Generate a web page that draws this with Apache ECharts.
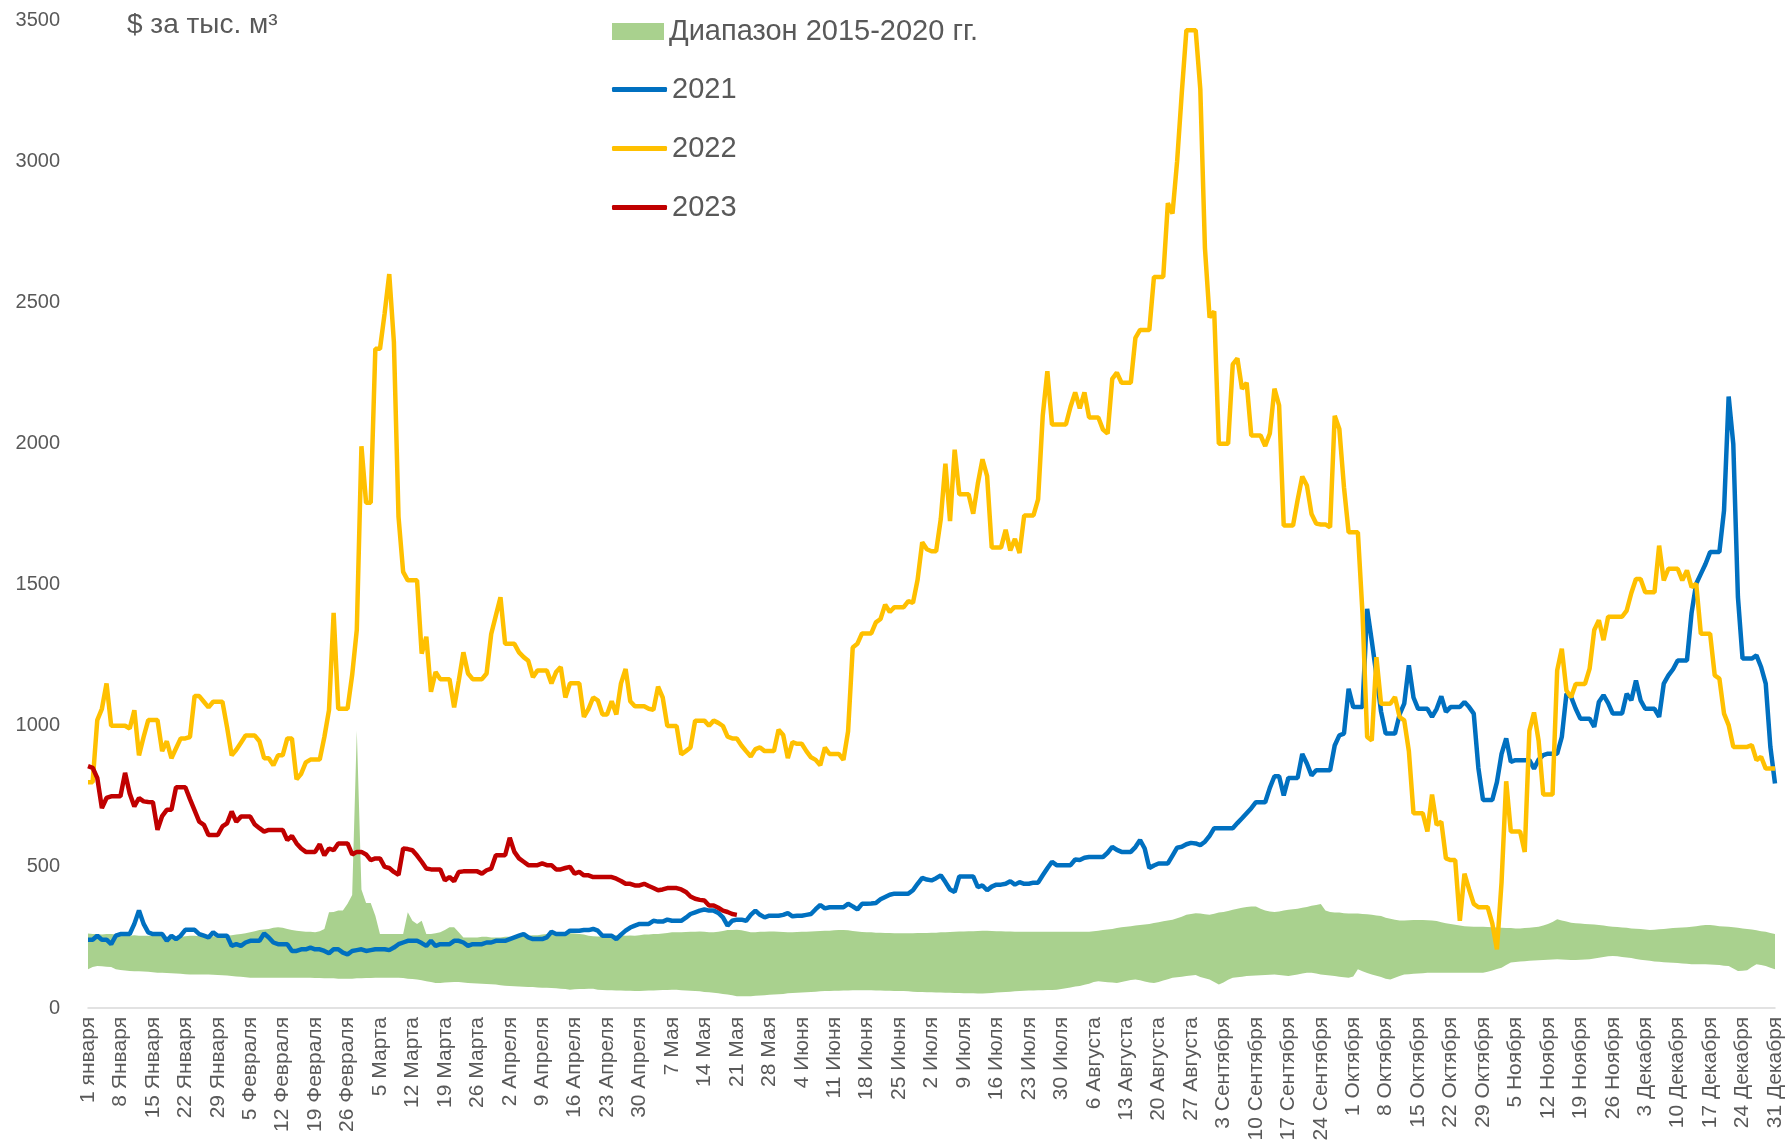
<!DOCTYPE html>
<html lang="ru" style="height: 100%">
<head>
  <meta charset="UTF-8">
  <title>Цены на газ</title>
</head>
<body style="height: 100%; margin: 0">
<div id="container" style="height: 100%; background-color: #ffffff"></div>
<script type="text/javascript" src="https://cdn.jsdelivr.net/npm/echarts@6/dist/echarts.min.js"></script>

<script type="text/javascript">
  // подписи оси X, каждые 7 дней
  var tickLabels = ['1 января', '8 Января', '15 Января', '22 Января', '29 Января',
    '5 Февраля', '12 Февраля', '19 Февраля', '26 Февраля',
    '5 Марта', '12 Марта', '19 Марта', '26 Марта',
    '2 Апреля', '9 Апреля', '16 Апреля', '23 Апреля', '30 Апреля',
    '7 Мая', '14 Мая', '21 Мая', '28 Мая',
    '4 Июня', '11 Июня', '18 Июня', '25 Июня',
    '2 Июля', '9 Июля', '16 Июля', '23 Июля', '30 Июля',
    '6 Августа', '13 Августа', '20 Августа', '27 Августа',
    '3 Сентября', '10 Сентября', '17 Сентября', '24 Сентября',
    '1 Октября', '8 Октября', '15 Октября', '22 Октября', '29 Октября',
    '5 Ноября', '12 Ноября', '19 Ноября', '26 Ноября',
    '3 Декабря', '10 Декабря', '17 Декабря', '24 Декабря', '31 Декабря'];

  // диапазон 2015-2020: минимум по дням
  var rangeMin = [
    137, 145, 149, 148, 146, 145, 137,
    135, 133, 131, 130, 130, 129, 128,
    127, 125, 125, 124, 123, 122, 121,
    120, 119, 119, 119, 119, 119, 118,
    117, 116, 115, 113, 112, 111, 109,
    107, 107, 107, 107, 107, 107, 107,
    107, 107, 107, 107, 107, 107, 107,
    106, 106, 105, 105, 105, 104, 104,
    104, 104, 105, 105, 106, 106, 107,
    107, 107, 107, 107, 107, 106, 104,
    103, 101, 98, 95, 92, 89, 89,
    90, 91, 92, 92, 90, 89, 88,
    87, 86, 85, 84, 83, 81, 79,
    78, 77, 76, 75, 74, 74, 73,
    72, 72, 71, 70, 68, 67, 65,
    66, 67, 67, 68, 68, 65, 64,
    63, 63, 62, 62, 61, 61, 60,
    60, 61, 62, 62, 63, 64, 64,
    65, 65, 63, 62, 61, 60, 59,
    57, 56, 54, 52, 50, 48, 45,
    42, 42, 42, 42, 43, 44, 45,
    47, 48, 49, 50, 52, 53, 54,
    55, 56, 57, 58, 59, 60, 60,
    61, 61, 62, 62, 63, 63, 63,
    63, 63, 62, 62, 61, 61, 60,
    60, 60, 59, 58, 57, 57, 56,
    56, 55, 55, 54, 54, 53, 53,
    52, 52, 52, 51, 51, 52, 53,
    55, 56, 57, 58, 59, 60, 61,
    62, 62, 63, 63, 64, 64, 65,
    67, 70, 73, 76, 78, 82, 86,
    92, 95, 93, 91, 90, 89, 92,
    96, 99, 101, 98, 94, 90, 89,
    92, 97, 102, 107, 109, 111, 113,
    115, 117, 110, 105, 101, 92, 83,
    90, 100, 107, 109, 111, 113, 114,
    115, 116, 117, 118, 119, 117, 115,
    113, 116, 119, 122, 125, 125, 122,
    119, 117, 115, 113, 111, 109, 107,
    112, 137, 130, 124, 119, 114, 110,
    104, 101, 107, 113, 119, 120, 121,
    122, 123, 125, 125, 125, 125, 125,
    125, 125, 125, 125, 125, 125, 125,
    125, 128, 133, 138, 143, 152, 161,
    163, 165, 166, 167, 168, 169, 170,
    171, 172, 173, 172, 171, 170, 170,
    171, 172, 173, 175, 178, 181, 183,
    184, 183, 181, 179, 177, 174, 171,
    169, 167, 165, 164, 162, 161, 160,
    159, 158, 157, 155, 155, 155, 155,
    154, 153, 152, 150, 149, 140, 131,
    132, 134, 145, 155, 152, 149, 143,
    137];

  // диапазон 2015-2020: максимум по дням
  var rangeMax = [
    264, 262, 262, 260, 262, 262, 260,
    258, 256, 256, 258, 256, 256, 256,
    256, 256, 254, 252, 250, 250, 252,
    254, 256, 256, 254, 255, 255, 254,
    255, 255, 256, 258, 260, 262, 265,
    268, 272, 276, 278, 280, 284, 286,
    284, 280, 276, 274, 272, 270, 270,
    268, 272, 280, 339, 340, 345, 345,
    369, 400, 982, 420, 372, 372, 327,
    262, 262, 262, 262, 262, 262, 339,
    309, 298, 309, 262, 262, 265, 268,
    276, 286, 286, 268, 250, 250, 250,
    250, 252, 252, 250, 250, 250, 252,
    252, 250, 252, 255, 256, 258, 258,
    260, 262, 262, 262, 264, 265, 265,
    264, 262, 260, 256, 254, 253, 253,
    255, 256, 258, 258, 256, 257, 256,
    258, 260, 260, 262, 262, 264, 266,
    268, 268, 268, 269, 270, 270, 271,
    270, 268, 268, 270, 273, 276, 276,
    277, 275, 272, 268, 268, 270, 270,
    271, 271, 270, 269, 268, 268, 269,
    270, 270, 271, 272, 273, 274, 274,
    275, 276, 276, 275, 273, 271, 269,
    268, 268, 267, 267, 266, 266, 265,
    265, 265, 265, 265, 266, 266, 266,
    267, 267, 268, 268, 269, 270, 271,
    271, 272, 272, 273, 274, 274, 273,
    272, 272, 271, 271, 270, 270, 270,
    270, 270, 270, 270, 270, 270, 270,
    270, 270, 270, 270, 270, 270, 270,
    272, 274, 276, 278, 280, 283, 286,
    288, 290, 292, 294, 296, 298, 301,
    304, 307, 310, 313, 318, 323, 330,
    333, 336, 335, 332, 330, 334, 338,
    340, 344, 348, 352, 355, 358, 360,
    360, 352, 345, 342, 340, 342, 345,
    348, 350, 352, 355, 358, 362, 365,
    368, 345, 340, 338, 338, 336, 335,
    335, 335, 333, 332, 330, 328, 326,
    320, 316, 313, 310, 310, 311, 312,
    312, 312, 311, 310, 308, 304, 300,
    298, 295, 292, 290, 289, 288, 288,
    288, 287, 286, 285, 284, 283, 283,
    282, 282, 283, 284, 286, 288, 292,
    298, 305, 314, 310, 306, 302, 300,
    299, 298, 297, 296, 294, 292, 290,
    288, 287, 285, 284, 282, 281, 280,
    278, 276, 277, 279, 280, 282, 283,
    284, 285, 286, 288, 290, 292, 294,
    294, 292, 290, 289, 288, 286, 284,
    282, 280, 278, 275, 272, 270, 266,
    262];

  var price2021 = [
    242, 242, 256, 242, 242, 226, 256,
    262, 262, 262, 298, 345, 298, 268,
    262, 262, 262, 238, 256, 244, 256,
    277, 277, 277, 262, 256, 250, 268,
    256, 256, 256, 220, 226, 220, 232,
    238, 238, 238, 264, 250, 232, 226,
    226, 226, 202, 202, 208, 208, 214,
    208, 208, 202, 194, 208, 208, 196,
    190, 202, 205, 208, 202, 205, 208,
    208, 208, 205, 214, 226, 232, 238,
    238, 238, 230, 220, 238, 220, 226,
    226, 226, 238, 238, 232, 220, 226,
    226, 226, 232, 232, 238, 238, 238,
    244, 250, 256, 262, 250, 244, 244,
    244, 250, 270, 262, 262, 262, 274,
    274, 274, 276, 276, 280, 274, 256,
    256, 256, 244, 260, 274, 285, 292,
    298, 298, 298, 309, 306, 306, 313,
    309, 309, 309, 320, 333, 339, 345,
    349, 345, 345, 337, 321, 292, 309,
    313, 313, 309, 330, 345, 330, 321,
    327, 327, 327, 330, 336, 325, 327,
    327, 330, 333, 350, 365, 353, 357,
    357, 357, 357, 369, 360, 349, 369,
    369, 370, 372, 385, 393, 401, 405,
    405, 405, 405, 417, 440, 461, 455,
    452, 460, 470, 446, 420, 411, 466,
    466, 466, 466, 428, 434, 417, 430,
    437, 437, 440, 449, 437, 446, 440,
    440, 444, 444, 470, 495, 518, 506,
    506, 506, 506, 526, 524, 532, 535,
    535, 535, 535, 550, 571, 560, 553,
    553, 553, 570, 595, 565, 496, 505,
    512, 512, 512, 540, 568, 571, 580,
    585, 583, 577, 589, 610, 637, 637,
    637, 637, 637, 655, 672, 690, 708,
    729, 729, 729, 780, 821, 821, 753,
    815, 815, 815, 900, 866, 824, 842,
    842, 842, 842, 930, 966, 972, 1131,
    1066, 1066, 1066, 1414, 1300, 1180, 1050,
    972, 972, 972, 1040, 1078, 1214, 1100,
    1060, 1060, 1060, 1031, 1060, 1104, 1049,
    1066, 1066, 1066, 1084, 1066, 1043, 850,
    737, 737, 737, 800, 900, 955, 872,
    878, 878, 878, 878, 848, 880, 896,
    901, 901, 901, 960, 1113, 1102, 1060,
    1025, 1025, 1025, 996, 1084, 1108, 1080,
    1043, 1043, 1043, 1113, 1090, 1160, 1090,
    1060, 1060, 1060, 1031, 1149, 1178, 1200,
    1231, 1231, 1231, 1400, 1503, 1538, 1573,
    1615, 1615, 1615, 1762, 2166, 1998, 1456,
    1238, 1238, 1238, 1249, 1208, 1149, 925,
    795];

  var price2022 = [
    800, 800, 1020, 1060, 1150, 1000, 1000,
    1000, 1000, 990, 1055, 895, 960, 1020,
    1020, 1020, 910, 945, 885, 920, 955,
    955, 960, 1105, 1105, 1085, 1065, 1085,
    1085, 1085, 995, 895, 915, 940, 965,
    965, 965, 945, 885, 885, 860, 895,
    895, 955, 955, 810, 830, 870, 880,
    880, 880, 960, 1055, 1400, 1060, 1060,
    1060, 1180, 1340, 1990, 1790, 1790, 2335,
    2335, 2460, 2600, 2360, 1740, 1545, 1515,
    1515, 1515, 1255, 1315, 1120, 1190, 1165,
    1165, 1165, 1065, 1160, 1260, 1185, 1165,
    1165, 1165, 1185, 1325, 1390, 1455, 1290,
    1290, 1290, 1260, 1243, 1230, 1172, 1196,
    1196, 1196, 1150, 1190, 1208, 1100, 1150,
    1150, 1150, 1031, 1060, 1100, 1090, 1040,
    1040, 1087, 1040, 1150, 1201, 1087, 1069,
    1069, 1069, 1060, 1056, 1138, 1100, 999,
    999, 999, 898, 910, 923, 1018, 1018,
    1018, 1000, 1018, 1010, 999, 961, 955,
    955, 930, 910, 891, 917, 923, 910,
    910, 910, 986, 967, 885, 942, 936,
    936, 910, 888, 879, 860, 923, 900,
    900, 900, 879, 980, 1277, 1290, 1327,
    1327, 1327, 1366, 1378, 1429, 1403, 1420,
    1420, 1420, 1441, 1435, 1517, 1650, 1625,
    1618, 1618, 1732, 1928, 1725, 1978, 1820,
    1820, 1820, 1751, 1858, 1944, 1884, 1631,
    1631, 1631, 1694, 1621, 1662, 1612, 1745,
    1745, 1745, 1802, 2098, 2256, 2067, 2067,
    2067, 2067, 2130, 2181, 2124, 2181, 2092,
    2092, 2092, 2049, 2035, 2229, 2251, 2215,
    2215, 2215, 2374, 2402, 2402, 2402, 2590,
    2590, 2590, 2851, 2814, 3000, 3241, 3464,
    3464, 3464, 3255, 2692, 2446, 2468, 1999,
    1999, 1999, 2280, 2301, 2193, 2215, 2028,
    2028, 2028, 1991, 2035, 2194, 2135, 1709,
    1709, 1709, 1800, 1883, 1851, 1750, 1716,
    1713, 1713, 1703, 2098, 2051, 1845, 1685,
    1685, 1685, 1397, 960, 948, 1243, 1078,
    1078, 1078, 1102, 1031, 1019, 910, 690,
    690, 690, 625, 756, 649, 660, 530,
    524, 524, 309, 476, 420, 369, 357,
    357, 357, 300, 208, 446, 803, 625,
    625, 625, 553, 982, 1047, 946, 756,
    756, 756, 1196, 1273, 1125, 1101, 1148,
    1148, 1148, 1202, 1339, 1374, 1303, 1386,
    1386, 1386, 1386, 1408, 1470, 1520, 1520,
    1473, 1473, 1473, 1638, 1515, 1556, 1556,
    1556, 1515, 1550, 1491, 1503, 1326, 1326,
    1326, 1178, 1167, 1043, 1002, 925, 925,
    925, 925, 931, 878, 890, 848, 848,
    848];

  // 2023 — данные до 21 мая
  var price2023 = [
    857, 851, 815, 708, 744, 750, 750,
    750, 833, 760, 714, 744, 732, 730,
    729, 631, 680, 702, 702, 782, 782,
    782, 740, 700, 660, 649, 613, 613,
    613, 643, 654, 696, 660, 678, 678,
    678, 650, 637, 625, 631, 631, 631,
    631, 595, 610, 583, 565, 553, 553,
    553, 580, 541, 565, 559, 583, 583,
    583, 544, 553, 553, 544, 524, 530,
    530, 500, 496, 482, 472, 565, 563,
    559, 540, 518, 494, 491, 491, 491,
    452, 464, 449, 482, 484, 484, 484,
    484, 476, 488, 494, 541, 541, 541,
    603, 553, 530, 518, 506, 506, 506,
    512, 506, 506, 491, 491, 496, 500,
    476, 482, 470, 470, 464, 464, 464,
    464, 464, 458, 450, 440, 440, 434,
    434, 440, 432, 425, 417, 420, 425,
    425, 425, 420, 411, 395, 387, 383,
    381, 363, 363, 355, 345, 340, 333,
    330];

  var days = [];
  for (var i = 0; i < rangeMax.length; i++) {
    days.push(i);
  }
  var rangeSpan = rangeMax.map(function (v, i) {
    return v - rangeMin[i];
  });

  var fontName = 'Liberation Sans';
  var grey = '#595959';

  var dom = document.getElementById('container');
  var myChart = echarts.init(dom, null, {
    renderer: 'canvas',
    useDirtyRect: false
  });
  var option;

  option = {
    animation: false,
    textStyle: { fontFamily: fontName },
    title: {
      text: '$ за тыс. м³',
      left: 127,
      top: 11,
      padding: 0,
      textStyle: { fontSize: 28, fontWeight: 'normal', color: grey, fontFamily: fontName }
    },
    legend: [
      {
        data: ['Диапазон 2015-2020 гг.'],
        orient: 'vertical',
        left: 612,
        top: 17,
        padding: 0,
        icon: 'rect',
        itemWidth: 52,
        itemHeight: 17,
        textStyle: { fontSize: 29, color: grey, fontFamily: fontName }
      },
      {
        data: ['2021', '2022', '2023'],
        orient: 'vertical',
        left: 612,
        top: 75,
        padding: 0,
        itemGap: 30,
        icon: 'roundRect',
        itemWidth: 55,
        itemHeight: 5,
        textStyle: { fontSize: 29, color: grey, fontFamily: fontName }
      }
    ],
    grid: {
      left: 88,
      right: 13,
      top: 20,
      bottom: 138,
      outerBoundsMode: 'none'
    },
    xAxis: {
      type: 'category',
      data: days,
      boundaryGap: false,
      axisLine: { lineStyle: { color: '#D9D9D9', width: 1.5 } },
      axisTick: { show: false },
      axisLabel: {
        interval: 6,
        rotate: 90,
        margin: 9,
        fontSize: 21,
        color: grey,
        fontFamily: fontName,
        formatter: function (value, idx) {
          return tickLabels[Math.round(idx / 7)];
        }
      }
    },
    yAxis: {
      type: 'value',
      min: 0,
      max: 3500,
      interval: 500,
      splitLine: { show: false },
      axisLine: { show: false },
      axisTick: { show: false },
      axisLabel: {
        fontSize: 20,
        color: grey,
        margin: 28,
        fontFamily: fontName,
        formatter: function (v) {
          return String(v);
        }
      }
    },
    series: [
      {
        name: 'min',
        type: 'line',
        stack: 'band',
        data: rangeMin,
        symbol: 'none',
        silent: true,
        lineStyle: { width: 0 }
      },
      {
        name: 'Диапазон 2015-2020 гг.',
        type: 'line',
        stack: 'band',
        data: rangeSpan,
        symbol: 'none',
        color: '#A9D18E',
        itemStyle: { color: '#A9D18E' },
        lineStyle: { width: 0 },
        areaStyle: { color: '#A9D18E', opacity: 1 }
      },
      {
        name: '2021',
        type: 'line',
        data: price2021,
        symbol: 'none',
        color: '#0070C0',
        lineStyle: { color: '#0070C0', width: 4.5 }
      },
      {
        name: '2022',
        type: 'line',
        data: price2022,
        symbol: 'none',
        color: '#FFC000',
        lineStyle: { color: '#FFC000', width: 4.5 }
      },
      {
        name: '2023',
        type: 'line',
        data: price2023,
        symbol: 'none',
        color: '#C00000',
        lineStyle: { color: '#C00000', width: 4.5 }
      }
    ]
  };

  myChart.setOption(option);
  window.addEventListener('resize', myChart.resize);
</script>
</body>
</html>
